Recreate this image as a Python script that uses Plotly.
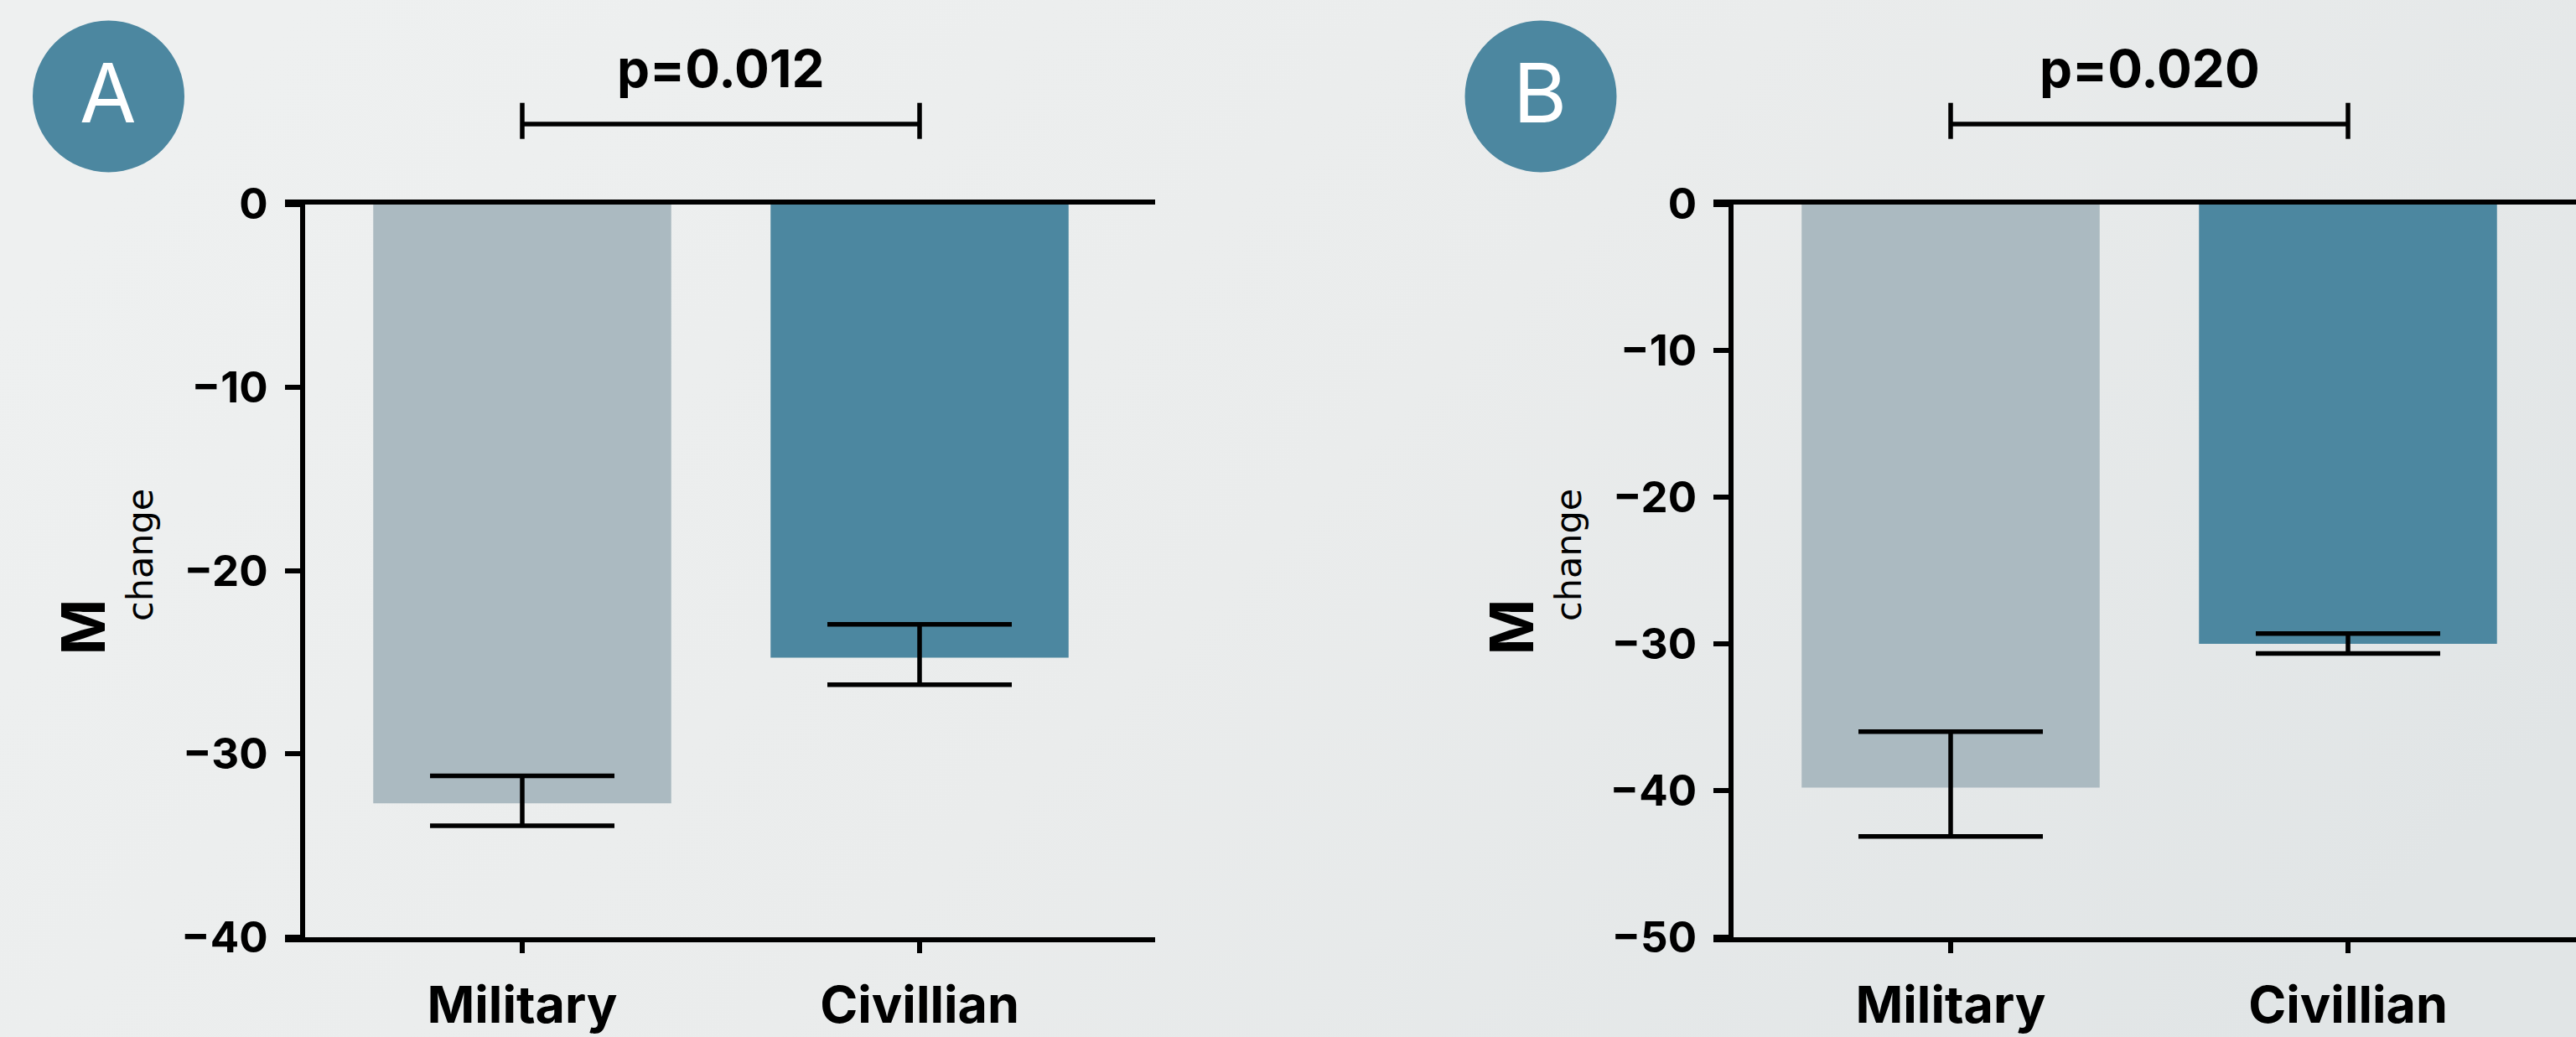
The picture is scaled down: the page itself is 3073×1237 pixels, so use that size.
import base64
import plotly.graph_objects as go

# ---------------- data ----------------
categories = ["Military", "Civillian"]

mean_a = [-32.7, -24.75]
err_plus_a = [1.5, 1.82]     # toward zero
err_minus_a = [1.22, 1.48]   # away from zero

mean_b = [-39.8, -30.0]
err_plus_b = [3.82, 0.71]
err_minus_b = [3.33, 0.66]

y_range_a = [-40, 0]
y_range_b = [-50, 0]
y_ticks_a = [0, -10, -20, -30, -40]
y_ticks_b = [0, -10, -20, -30, -40, -50]

p_labels = ["p=0.012", "p=0.020"]
panel_labels = ["A", "B"]
y_title_main = "M"
y_title_sub = "change"

bar_colors = ["#ABBAC1", "#4C87A0"]

# ---------------- layout helpers ----------------
W, H = 3073, 1237


def px(x):
    return x / W


def py(y):
    return 1 - y / H


LINE_W = 5.5
UNIT = 474.0            # px per category step
Y_TOP, Y_BOT = 243.5, 1117.8

panels = [
    dict(left=340, right=1378, yaxis_x=360.5, cat0=623, circle=(129.5, 115),
         mean=mean_a, ep=err_plus_a, em=err_minus_a, yr=y_range_a, yt=y_ticks_a),
    dict(left=2044, right=3073, yaxis_x=2065, cat0=2327, circle=(1838, 115),
         mean=mean_b, ep=err_plus_b, em=err_minus_b, yr=y_range_b, yt=y_ticks_b),
]

fig = go.Figure()
shapes, annotations = [], []

for i, p in enumerate(panels):
    sfx = "" if i == 0 else str(i + 1)
    xa, ya = "x" + sfx, "y" + sfx
    fig.add_trace(go.Bar(
        x=categories, y=p["mean"], width=0.75,
        marker=dict(color=bar_colors, line=dict(width=0)),
        error_y=dict(type="data", symmetric=False, array=p["ep"], arrayminus=p["em"],
                     color="black", thickness=5.5, width=110),
        xaxis=xa, yaxis=ya, showlegend=False, hoverinfo="skip",
    ))

    x0 = (p["left"] - p["cat0"]) / UNIT
    x1 = (p["right"] - p["cat0"]) / UNIT
    xaxis = dict(
        domain=[px(p["left"]), px(p["right"])], range=[x0, x1], anchor=ya,
        showline=True, linecolor="black", linewidth=LINE_W, mirror=True,
        ticks="outside", ticklen=13, tickwidth=5.5, tickcolor="black",
        tickfont=dict(family="Inter", size=61, color="black", weight=700),
        ticklabelstandoff=10, showgrid=False, zeroline=False, fixedrange=True,
        automargin=False,
    )
    yaxis = dict(
        domain=[py(Y_BOT), py(Y_TOP)], range=p["yr"], anchor="free",
        position=px(p["yaxis_x"]),
        showline=True, linecolor="black", linewidth=LINE_W,
        ticks="outside", ticklen=18, tickwidth=5.5, tickcolor="black",
        tickvals=p["yt"], ticktext=[str(v) if v == 0 else "\u2212" + str(-v) for v in p["yt"]],
        tickfont=dict(family="Inter", size=51, color="black", weight=700),
        ticklabelstandoff=10, showgrid=False, zeroline=False, fixedrange=True,
        automargin=False,
    )
    fig.update_layout(**{"xaxis" + sfx: xaxis, "yaxis" + sfx: yaxis})

    # panel circle + letter
    cx, cy = p["circle"]
    r = 90.5
    shapes.append(dict(type="circle", xref="paper", yref="paper",
                       x0=px(cx - r), x1=px(cx + r), y0=py(cy + r), y1=py(cy - r),
                       fillcolor="#4C87A0", line=dict(width=0), layer="above"))
    annotations.append(dict(text=panel_labels[i], xref="paper", yref="paper",
                            x=px(cx - 1), y=py(cy - 4), xanchor="center", yanchor="middle",
                            showarrow=False,
                            font=dict(family="Inter", size=98, color="white", weight=400)))

    # significance bracket
    yl, yc0, yc1 = py(148), py(122.7), py(165.7)
    for (a, b, c, d) in [(0, yl, 1, yl), (0, yc0, 0, yc1), (1, yc0, 1, yc1)]:
        shapes.append(dict(type="line", xref=xa, yref="paper", x0=a, x1=c, y0=b, y1=d,
                           line=dict(color="black", width=LINE_W)))
    annotations.append(dict(text=p_labels[i], xref=xa, yref="paper", x=0.5, y=py(82),
                            xanchor="center", yanchor="middle", showarrow=False,
                            font=dict(family="Inter", size=62, color="black", weight=700)))

    # y-axis title M_change
    off = p["left"] - 340
    annotations.append(dict(text=y_title_main, xref="paper", yref="paper",
                            x=px(52 + off), y=py(748), xanchor="left", yanchor="middle",
                            textangle=-90, showarrow=False,
                            font=dict(family="Inter", size=72, color="black", weight=700)))
    annotations.append(dict(text=y_title_sub, xref="paper", yref="paper",
                            x=px(140 + off), y=py(662), xanchor="left", yanchor="middle",
                            textangle=-90, showarrow=False,
                            font=dict(family="DejaVu Sans", size=43, color="black")))

# subtle background gradient
svg = ('<svg xmlns="http://www.w3.org/2000/svg" width="3073" height="1237" '
       'preserveAspectRatio="none" viewBox="0 0 3073 1237">'
       '<defs><linearGradient id="g" x1="0" y1="0.3" x2="1" y2="0.7">'
       '<stop offset="0" stop-color="#EEF0F0"/><stop offset="0.5" stop-color="#EAECEC"/>'
       '<stop offset="1" stop-color="#E1E5E6"/></linearGradient></defs>'
       '<rect width="3073" height="1237" fill="url(#g)"/></svg>')
src = "data:image/svg+xml;base64," + base64.b64encode(svg.encode()).decode()

fig.update_layout(
    width=W, height=H, autosize=False,
    margin=dict(l=0, r=0, t=0, b=0, pad=0, autoexpand=False),
    paper_bgcolor="#EAECEC", plot_bgcolor="rgba(0,0,0,0)",
    shapes=shapes, annotations=annotations,
    images=[dict(source=src, xref="paper", yref="paper", x=0, y=1, sizex=1, sizey=1,
                 xanchor="left", yanchor="top", sizing="stretch", layer="below")],
    bargap=0.25,
)

post = ("document.documentElement.style.margin='0';document.documentElement.style.padding='0';"
        "document.body.style.margin='0';document.body.style.padding='0';"
        "document.body.style.overflow='hidden';document.body.style.background='#EAECEC';")

fig.write_html("out.html", config={"displayModeBar": False}, post_script=post)
